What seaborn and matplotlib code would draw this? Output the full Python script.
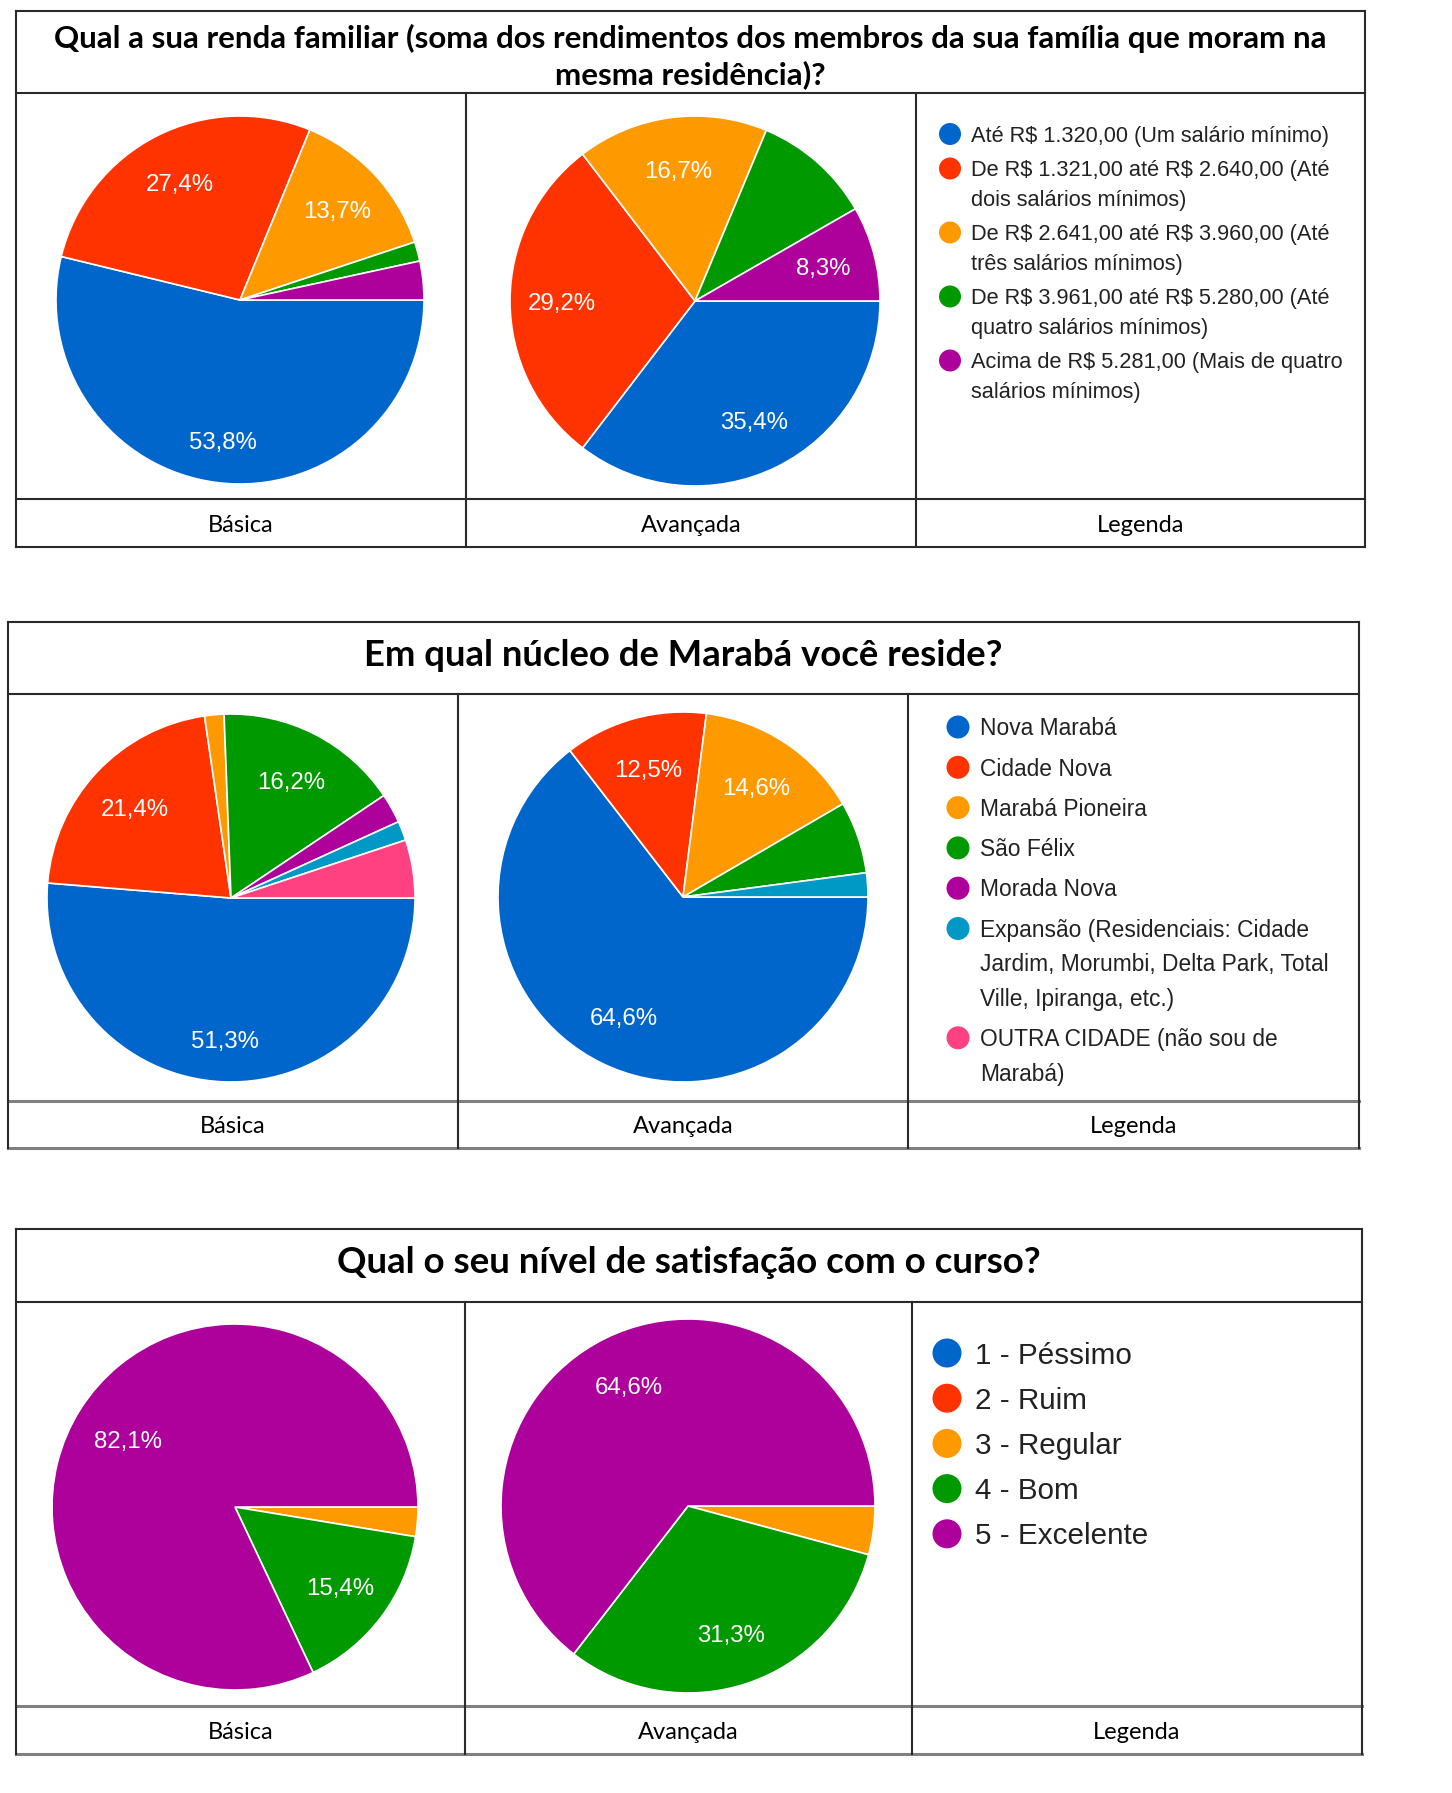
import numpy as np
import seaborn as sns
import matplotlib
matplotlib.use("Agg")
import matplotlib.pyplot as plt
from matplotlib.patches import Circle

# ---------------- DATA ----------------
titulo_renda = ["Qual a sua renda familiar (soma dos rendimentos dos membros da sua família que moram na",
                "mesma residência)?"]
categorias_renda = ["Até R$ 1.320,00 (Um salário mínimo)",
                    "De R$ 1.321,00 até R$ 2.640,00 (Até dois salários mínimos)",
                    "De R$ 2.641,00 até R$ 3.960,00 (Até três salários mínimos)",
                    "De R$ 3.961,00 até R$ 5.280,00 (Até quatro salários mínimos)",
                    "Acima de R$ 5.281,00 (Mais de quatro salários mínimos)"]
renda_basica = [53.8, 27.4, 13.7, 1.7, 3.4]
renda_avancada = [35.4, 29.2, 16.7, 10.4, 8.3]
rotulo_renda_basica = [True, True, True, False, False]
rotulo_renda_avancada = [True, True, True, False, True]

titulo_nucleo = ["Em qual núcleo de Marabá você reside?"]
categorias_nucleo = ["Nova Marabá", "Cidade Nova", "Marabá Pioneira", "São Félix", "Morada Nova",
                     "Expansão (Residenciais: Cidade Jardim, Morumbi, Delta Park, Total Ville, Ipiranga, etc.)",
                     "OUTRA CIDADE (não sou de Marabá)"]
nucleo_basica = [51.3, 21.4, 1.7, 16.2, 2.6, 1.7, 5.1]
nucleo_avancada = [64.6, 12.5, 14.6, 6.3, 0.0, 2.1, 0.0]
rotulo_nucleo_basica = [True, True, False, True, False, False, False]
rotulo_nucleo_avancada = [True, True, True, False, False, False, False]

titulo_satisf = ["Qual o seu nível de satisfação com o curso?"]
categorias_satisf = ["1 - Péssimo", "2 - Ruim", "3 - Regular", "4 - Bom", "5 - Excelente"]
satisf_basica = [0.0, 0.0, 2.6, 15.4, 82.1]
satisf_avancada = [0.0, 0.0, 4.2, 31.3, 64.6]
rotulo_satisf_basica = [False, False, False, True, True]
rotulo_satisf_avancada = [False, False, False, True, True]

colunas = ["Básica", "Avançada", "Legenda"]
cores = ["#0066CC", "#FF3300", "#FF9900", "#009900", "#AE009B", "#0099C6", "#FF4081"]

# ---------------- STYLE ----------------
sns.set_theme(style="white")
plt.rcParams['font.family'] = ['Liberation Sans', 'DejaVu Sans']
plt.rcParams['text.parse_math'] = False
paleta = sns.color_palette(cores)

W, H = 1452, 1793
fig = plt.figure(figsize=(W / 100, H / 100), dpi=100)
fig.patch.set_facecolor("white")
base = fig.add_axes([0, 0, 1, 1])
base.set_xlim(0, W)
base.set_ylim(H, 0)
base.axis("off")
renderer = fig.canvas.get_renderer()

SANS = ['Liberation Sans', 'DejaVu Sans']
TITLEF = ['Lato', 'DejaVu Sans']


def text_width(s, **kw):
    t = base.text(0, 0, s, parse_math=False, **kw)
    w = t.get_window_extent(renderer).width
    t.remove()
    return w


def wrap_px(s, maxw, **kw):
    words = s.split(" ")
    lines, cur = [], ""
    for w in words:
        cand = (cur + " " + w).strip()
        if not cur or text_width(cand, **kw) <= maxw:
            cur = cand
        else:
            lines.append(cur)
            cur = w
    lines.append(cur)
    return lines


def fmt(v):
    return f"{v:.1f}".replace(".", ",") + "%"


def hline(x0, x1, y, color="#2a2a2a", lw=1.5):
    base.plot([x0, x1], [y, y], color=color, lw=lw, solid_capstyle="projecting", zorder=5)


def vline(x, y0, y1, color="#2a2a2a", lw=1.5):
    base.plot([x, x], [y0, y1], color=color, lw=lw, solid_capstyle="projecting", zorder=5)


def draw_pie(cx, cy, r, vals, show, fpx=24):
    ax = fig.add_axes([(cx - r) / W, 1 - (cy + r) / H, 2 * r / W, 2 * r / H])
    keep = [i for i, v in enumerate(vals) if v > 0]
    v = [vals[i] for i in keep]
    c = [paleta[i] for i in keep]
    wedges, _ = ax.pie(v, colors=c, startangle=0, counterclock=False, radius=1,
                       wedgeprops=dict(edgecolor="white", linewidth=1.2))
    for w, i in zip(wedges, keep):
        if show[i]:
            dist = 0.77 if 45 < vals[i] < 60 else (0.69 if vals[i] > 75 else 0.72)
            a = np.deg2rad((w.theta1 + w.theta2) / 2)
            x, y = dist * np.cos(a), dist * np.sin(a)
            ax.text(x, y - 0.36 * fpx / r, fmt(vals[i]), color="white", ha="center", va="baseline",
                    fontsize=fpx * 0.72, family=SANS)
    ax.set_xlim(-1, 1)
    ax.set_ylim(-1, 1)
    ax.set_aspect("equal")
    ax.axis("off")


def draw_legend(cats, xc, xt, y0, step, ls, rad, fpx, maxw):
    kw = dict(fontsize=fpx * 0.72, family=SANS)
    y = y0
    for i, cat in enumerate(cats):
        base.add_patch(Circle((xc, y), rad, color=paleta[i], lw=0, zorder=6))
        lines = wrap_px(cat, maxw, **kw)
        for j, ln in enumerate(lines):
            base.text(xt, y + j * ls + 0.36 * fpx, ln, color="#222222", ha="left", va="baseline", **kw)
        y += (len(lines) - 1) * ls + step


def fit_size(s, target, **kw):
    w = text_width(s, fontsize=20, **kw)
    return 20 * target / w


def panel(P, titulo, tw, tys, bas, ava, rb, ra, cats, leg, bottom_gray):
    x0, x1, yt, yh, yl, yb, d1, d2 = P
    # title
    fs = fit_size(titulo[0], tw, family=TITLEF, weight="bold")
    for ln, ty in zip(titulo, tys):
        base.text((x0 + x1) / 2, ty + 0.36 * fs / 0.72, ln, ha="center", va="baseline",
                  fontsize=fs, family=TITLEF, weight="bold", color="black")
    # pies
    draw_pie(*bas, rb)
    draw_pie(*ava, ra)
    # legend
    draw_legend(cats, *leg)
    # bottom labels
    xs = [(x0 + d1) / 2, (d1 + d2) / 2, (d2 + x1) / 2]
    for xx, lab in zip(xs, colunas):
        base.text(xx, (yl + yb) / 2 + 0.36 * 24, lab, ha="center", va="baseline",
                  fontsize=17, family=TITLEF, color="black")
    # borders
    gc, glw = ("#808080", 2.2) if bottom_gray else ("#2a2a2a", 1.5)
    hline(x0, x1, yt)
    hline(x0, x1, yh)
    hline(x0, x1, yl, gc, glw)
    hline(x0, x1, yb, gc, glw)
    vline(x0, yt, yb)
    vline(x1, yt, yb)
    vline(d1, yh, yb)
    vline(d2, yh, yb)


# panel geometry: x0, x1, top, title bottom, label row top, bottom, divider1, divider2
P1 = (16, 1365, 11, 93, 499, 547, 466, 916)
P2 = (8, 1359, 622, 694, 1101, 1148, 458, 908)
P3 = (16, 1362, 1229, 1302, 1706, 1754, 465, 912)

panel(P1, titulo_renda, 1271, [37, 73],
      (240, 300, 184, renda_basica), (695, 301, 185, renda_avancada),
      rotulo_renda_basica, rotulo_renda_avancada,
      categorias_renda, (950, 971, 134, 34.5, 29.5, 11, 21.8, 386), False)

panel(P2, titulo_nucleo, 640, [653],
      (231, 898, 184, nucleo_basica), (683, 897, 185, nucleo_avancada),
      rotulo_nucleo_basica, rotulo_nucleo_avancada,
      categorias_nucleo, (958, 980, 727, 40.3, 34.5, 11.5, 22.8, 370), True)

panel(P3, titulo_satisf, 702, [1260],
      (235, 1507, 183, satisf_basica), (688, 1506, 187, satisf_avancada),
      rotulo_satisf_basica, rotulo_satisf_avancada,
      categorias_satisf, (947, 975, 1353, 45.2, 45.2, 14.5, 29.6, 380), True)

fig.savefig("out.png", dpi=100, facecolor="white")
